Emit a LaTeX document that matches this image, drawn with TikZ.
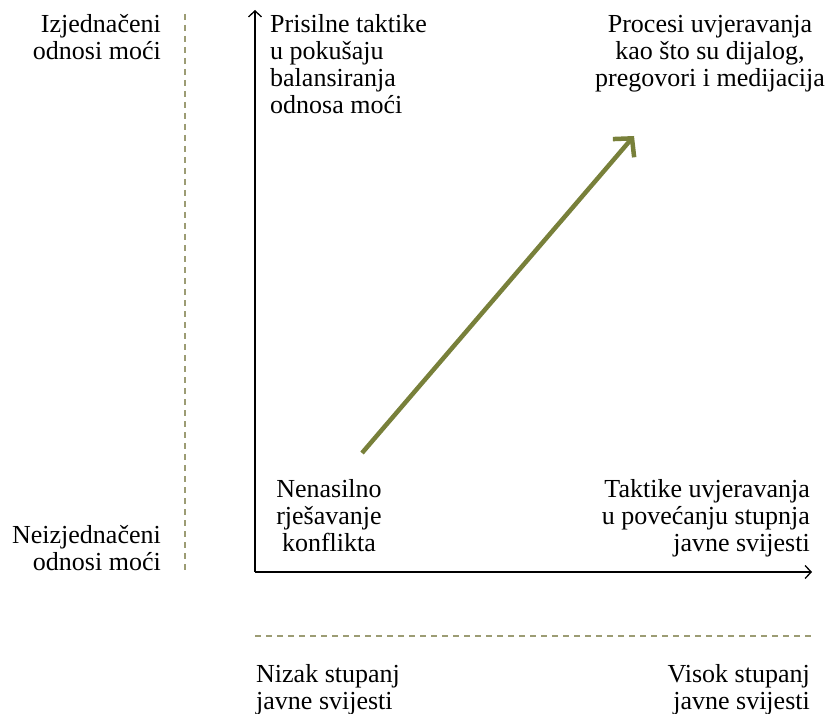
\documentclass[tikz,border=0pt]{standalone}
\usepackage{fontspec}
\setmainfont{Liberation Serif}
\usetikzlibrary{arrows.meta}
\definecolor{olivearrow}{HTML}{78803A}
\definecolor{dashcol}{HTML}{9C9C74}
\begin{document}
\begin{tikzpicture}[x=1pt,y=-1pt,
  lbl/.style={inner sep=0pt,font=\fontsize{26}{27}\selectfont},
  axis/.style={line width=1.3pt,-{Straight Barb[length=6pt,width=13pt]}},
  guide/.style={dashcol,line width=1.3pt,dash pattern=on 6pt off 5pt},
  trend/.style={olivearrow,line width=4.5pt,-{Straight Barb[length=13pt,width=28pt]}}]
\useasboundingbox (0,0) rectangle (827,714);
% axes
\coordinate (O) at (255,572);
\coordinate (ytop) at (255,10);
\coordinate (xend) at (812,572);
\draw[axis] (O) -- (ytop);
\draw[axis] (O) -- (xend);
% guides
\coordinate (g1) at (185,14);
\coordinate (g2) at (185,572);
\coordinate (g3) at (255,636);
\coordinate (g4) at (813,636);
\draw[guide] (g1) -- (g2);
\draw[guide] (g3) -- (g4);
% trend arrow
\coordinate (a1) at (362,453);
\coordinate (a2) at (634,136);
\draw[trend] (a1) -- (a2);
% labels (anchor = baseline of the last line)
\node[lbl,anchor=base east,align=right] (lefttop) at (161,60) {Izjednačeni\\odnosi moći};
\node[lbl,anchor=base east,align=right] (leftbot) at (161,570) {Neizjednačeni\\odnosi moći};
\node[lbl,anchor=base west,align=left] (tl) at (270,114) {Prisilne taktike\\u pokušaju\\balansiranja\\odnosa moći};
\node[lbl,anchor=base,align=center] (tr) at (710,87) {Procesi uvjeravanja\\kao što su dijalog,\\pregovori i medijacija};
\node[lbl,anchor=base,align=center] (bl) at (329,551) {Nenasilno\\rješavanje\\konflikta};
\node[lbl,anchor=base east,align=right] (br) at (810,551) {Taktike uvjeravanja\\u povećanju stupnja\\javne svijesti};
\node[lbl,anchor=base west,align=left] (lowleft) at (256,709) {Nizak stupanj\\javne svijesti};
\node[lbl,anchor=base east,align=right] (lowright) at (810,709) {Visok stupanj\\javne svijesti};
\end{tikzpicture}
\end{document}
